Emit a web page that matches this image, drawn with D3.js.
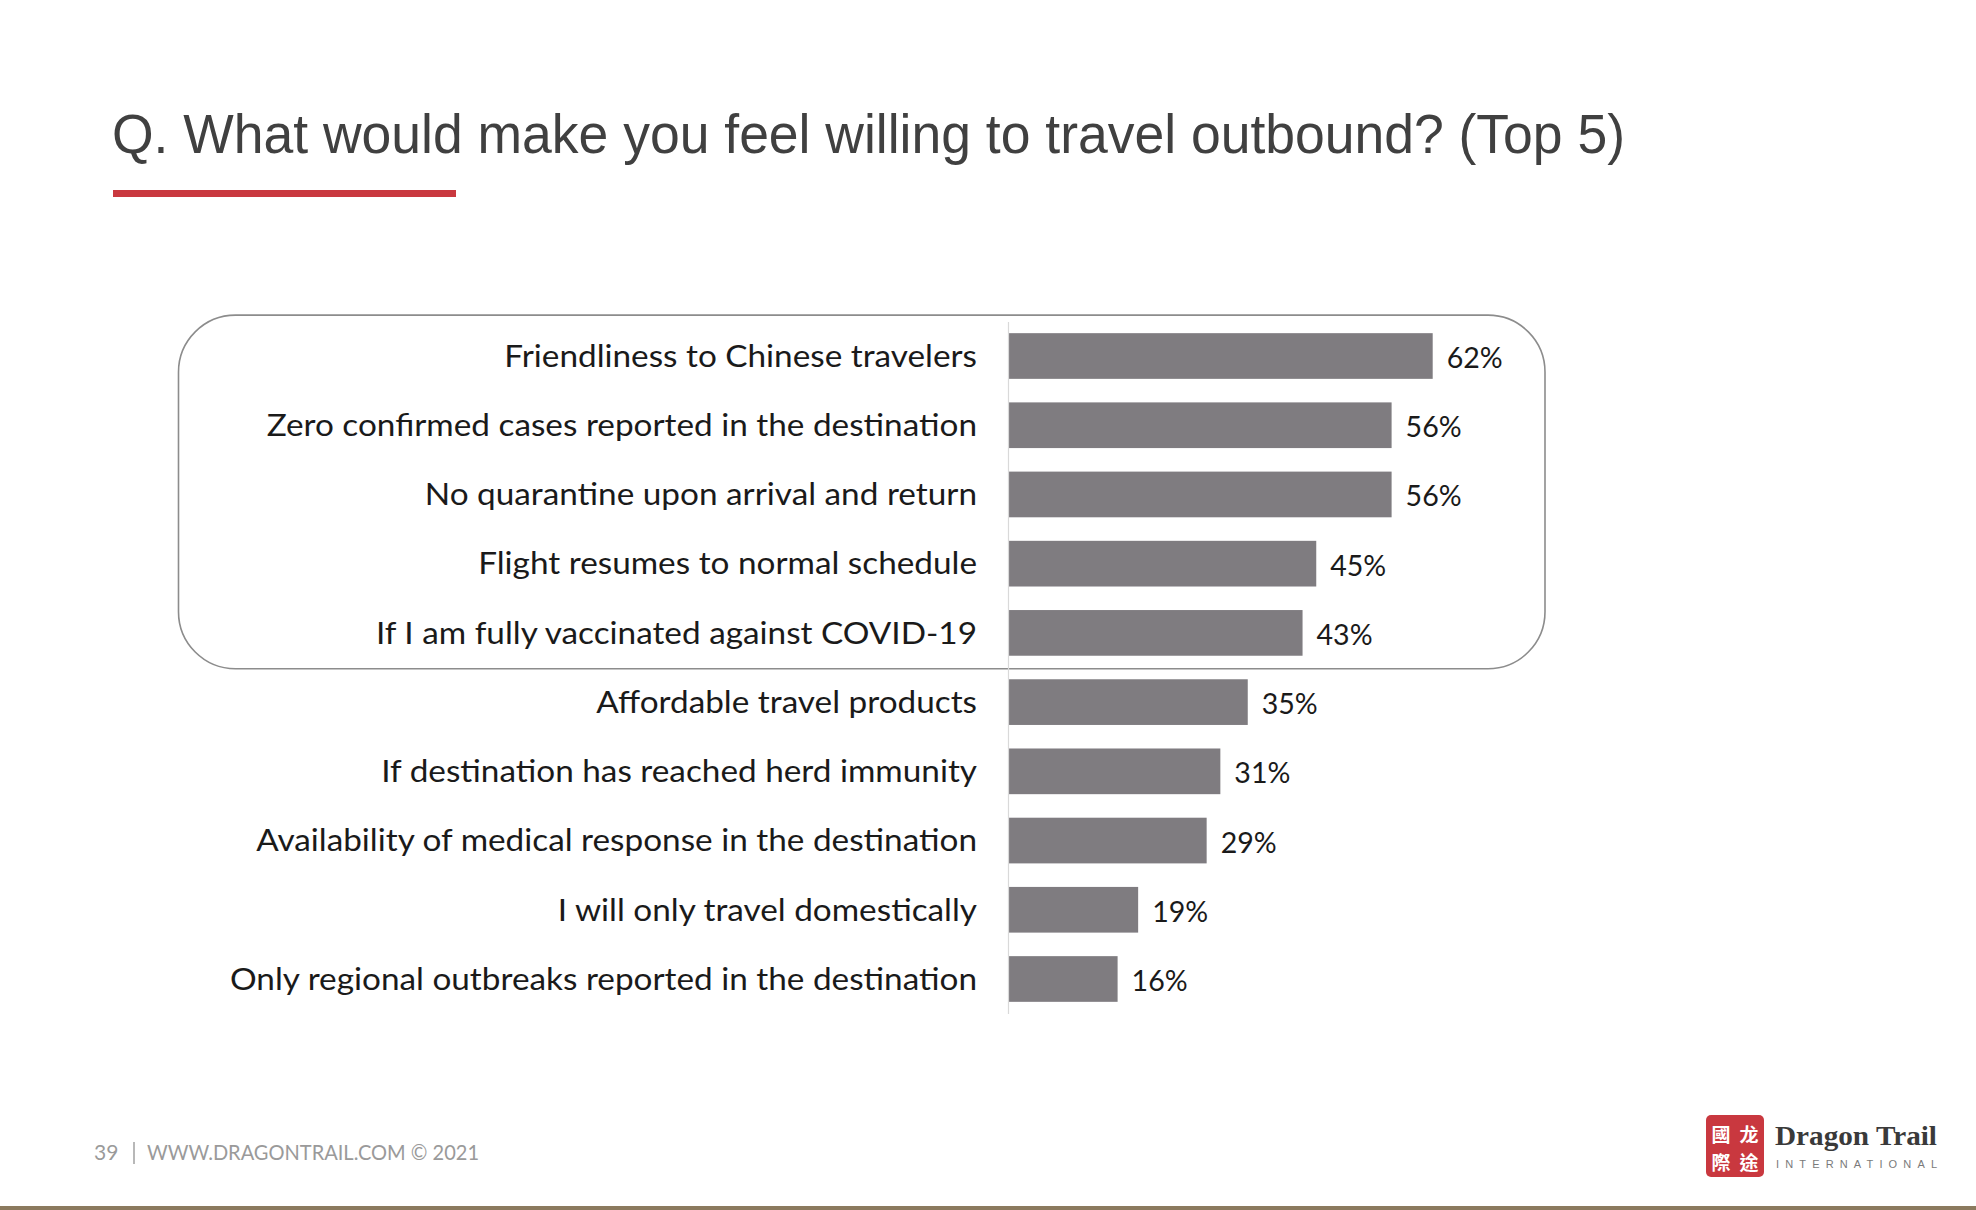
<!DOCTYPE html>
<html>
<head>
<meta charset="utf-8">
<script src="https://cdn.jsdelivr.net/npm/d3@7"></script>
<style>
  html, body { margin: 0; padding: 0; background: #ffffff; }
  svg { display: block; }
</style>
</head>
<body>
<svg id="chart" width="1976" height="1210"></svg>
<script>
// ---------- data ----------
const titleText = "Q. What would make you feel willing to travel outbound? (Top 5)";
const categories = [
  "Friendliness to Chinese travelers",
  "Zero confirmed cases reported in the destination",
  "No quarantine upon arrival and return",
  "Flight resumes to normal schedule",
  "If I am fully vaccinated against COVID-19",
  "Affordable travel products",
  "If destination has reached herd immunity",
  "Availability of medical response in the destination",
  "I will only travel domestically",
  "Only regional outbreaks reported in the destination"
];
const values = [62, 56, 56, 45, 43, 35, 31, 29, 19, 16];
const topN = 5;
const footerPage = "39";
const footerText = "WWW.DRAGONTRAIL.COM © 2021";
const logoName = "Dragon Trail";
const logoSub = "INTERNATIONAL";
const logoChars = ["國", "龙", "際", "途"];

// ---------- drawing ----------
const svg = d3.select("#chart");
const labelFont = "'Lato', 'Open Sans', sans-serif";

svg.append("rect").attr("width", 1976).attr("height", 1210).attr("fill", "#ffffff");

// title
svg.append("text")
  .attr("x", 112).attr("y", 153)
  .attr("font-family", "'Liberation Sans', Arial, sans-serif")
  .attr("font-size", 55)
  .attr("fill", "#404040")
  .attr("textLength", 1513).attr("lengthAdjust", "spacingAndGlyphs")
  .text(titleText);
svg.append("rect").attr("x", 113).attr("y", 190).attr("width", 343).attr("height", 7).attr("fill", "#c9383f");

// scales
const x = d3.scaleLinear().domain([0, 100]).range([1008, 1693]);
const y = d3.scaleBand().domain(categories).range([321.4, 1013.6]).paddingInner(0.34).paddingOuter(0.17);

// rounded highlight box around top 5
const boxTop = y(categories[0]) - 18;
const boxBottom = y(categories[topN - 1]) + y.bandwidth() + 13;
svg.append("rect")
  .attr("x", 178.5).attr("y", boxTop)
  .attr("width", 1545 - 178.5).attr("height", boxBottom - boxTop)
  .attr("rx", 57).attr("ry", 57)
  .attr("fill", "none").attr("stroke", "#8c8c8c").attr("stroke-width", 1.6);

// bars
svg.append("g").selectAll("rect")
  .data(categories)
  .join("rect")
  .attr("x", x(0))
  .attr("y", d => y(d))
  .attr("width", (d, i) => x(values[i]) - x(0))
  .attr("height", y.bandwidth())
  .attr("fill", "#7f7c80");

// axis (category labels + vertical line)
const axis = svg.append("g")
  .attr("transform", `translate(${x(0)},0)`)
  .call(d3.axisLeft(y).tickSize(0).tickPadding(31));
axis.select(".domain").attr("stroke", "#d9d9d9").attr("stroke-width", 1.2);
axis.selectAll(".tick text")
  .attr("font-family", labelFont)
  .attr("font-size", 30)
  .attr("fill", "#1a1a1a")
  .attr("dy", "0.36em");
// uniform horizontal stretch toward the reference's wide geometric face
{
  let longest = 0;
  axis.selectAll(".tick text").each(function () { longest = Math.max(longest, this.getComputedTextLength()); });
  const k = 747 / longest;
  axis.selectAll(".tick text").each(function () {
    const w = this.getComputedTextLength();
    d3.select(this).attr("textLength", w * k).attr("lengthAdjust", "spacingAndGlyphs");
  });
}

// value labels
const vlab = svg.append("g").selectAll("text")
  .data(categories)
  .join("text")
  .attr("x", (d, i) => x(values[i]) + 14)
  .attr("y", d => y(d) + y.bandwidth() / 2 + 12)
  .attr("font-family", labelFont)
  .attr("font-size", 29)
  .attr("fill", "#1a1a1a")
  .text((d, i) => values[i] + "%");
{
  const k = 56 / vlab.nodes()[0].getComputedTextLength();
  vlab.each(function () {
    d3.select(this).attr("textLength", this.getComputedTextLength() * k).attr("lengthAdjust", "spacingAndGlyphs");
  });
}

// footer
const fg = svg.append("g").attr("font-family", labelFont).attr("fill", "#9a9a9a").attr("font-size", 21);
fg.append("text").attr("x", 94).attr("y", 1160).text(footerPage);
fg.append("line").attr("x1", 134).attr("x2", 134).attr("y1", 1142).attr("y2", 1164).attr("stroke", "#9a9a9a").attr("stroke-width", 1.4);
fg.append("text").attr("x", 147).attr("y", 1160)
  .attr("textLength", 332).attr("lengthAdjust", "spacingAndGlyphs")
  .text(footerText);

// logo
const lg = svg.append("g");
lg.append("rect").attr("x", 1706).attr("y", 1115).attr("width", 58).attr("height", 62).attr("rx", 5).attr("fill", "#c9383f");
const pos = [[1721, 1142], [1749, 1142], [1721, 1170], [1749, 1170]];
lg.selectAll("text.cj").data(logoChars).join("text")
  .attr("class", "cj")
  .attr("x", (d, i) => pos[i][0]).attr("y", (d, i) => pos[i][1])
  .attr("text-anchor", "middle")
  .attr("font-family", "'Noto Sans CJK TC', sans-serif")
  .attr("font-size", 19).attr("font-weight", "bold").attr("fill", "#ffffff")
  .text(d => d);
lg.append("text").attr("x", 1775).attr("y", 1145)
  .attr("font-family", "'Liberation Serif', serif").attr("font-weight", "bold")
  .attr("font-size", 27).attr("fill", "#3a3a3a")
  .attr("textLength", 162).attr("lengthAdjust", "spacingAndGlyphs")
  .text(logoName);
lg.append("text").attr("x", 1776).attr("y", 1168)
  .attr("font-family", "'Liberation Sans', sans-serif")
  .attr("font-size", 11).attr("fill", "#7a7a7a")
  .attr("textLength", 161).attr("lengthAdjust", "spacing")
  .text(logoSub);

// bottom edge line
svg.append("rect").attr("x", 0).attr("y", 1206).attr("width", 1976).attr("height", 4).attr("fill", "#8b7a5e");
</script>
</body>
</html>
